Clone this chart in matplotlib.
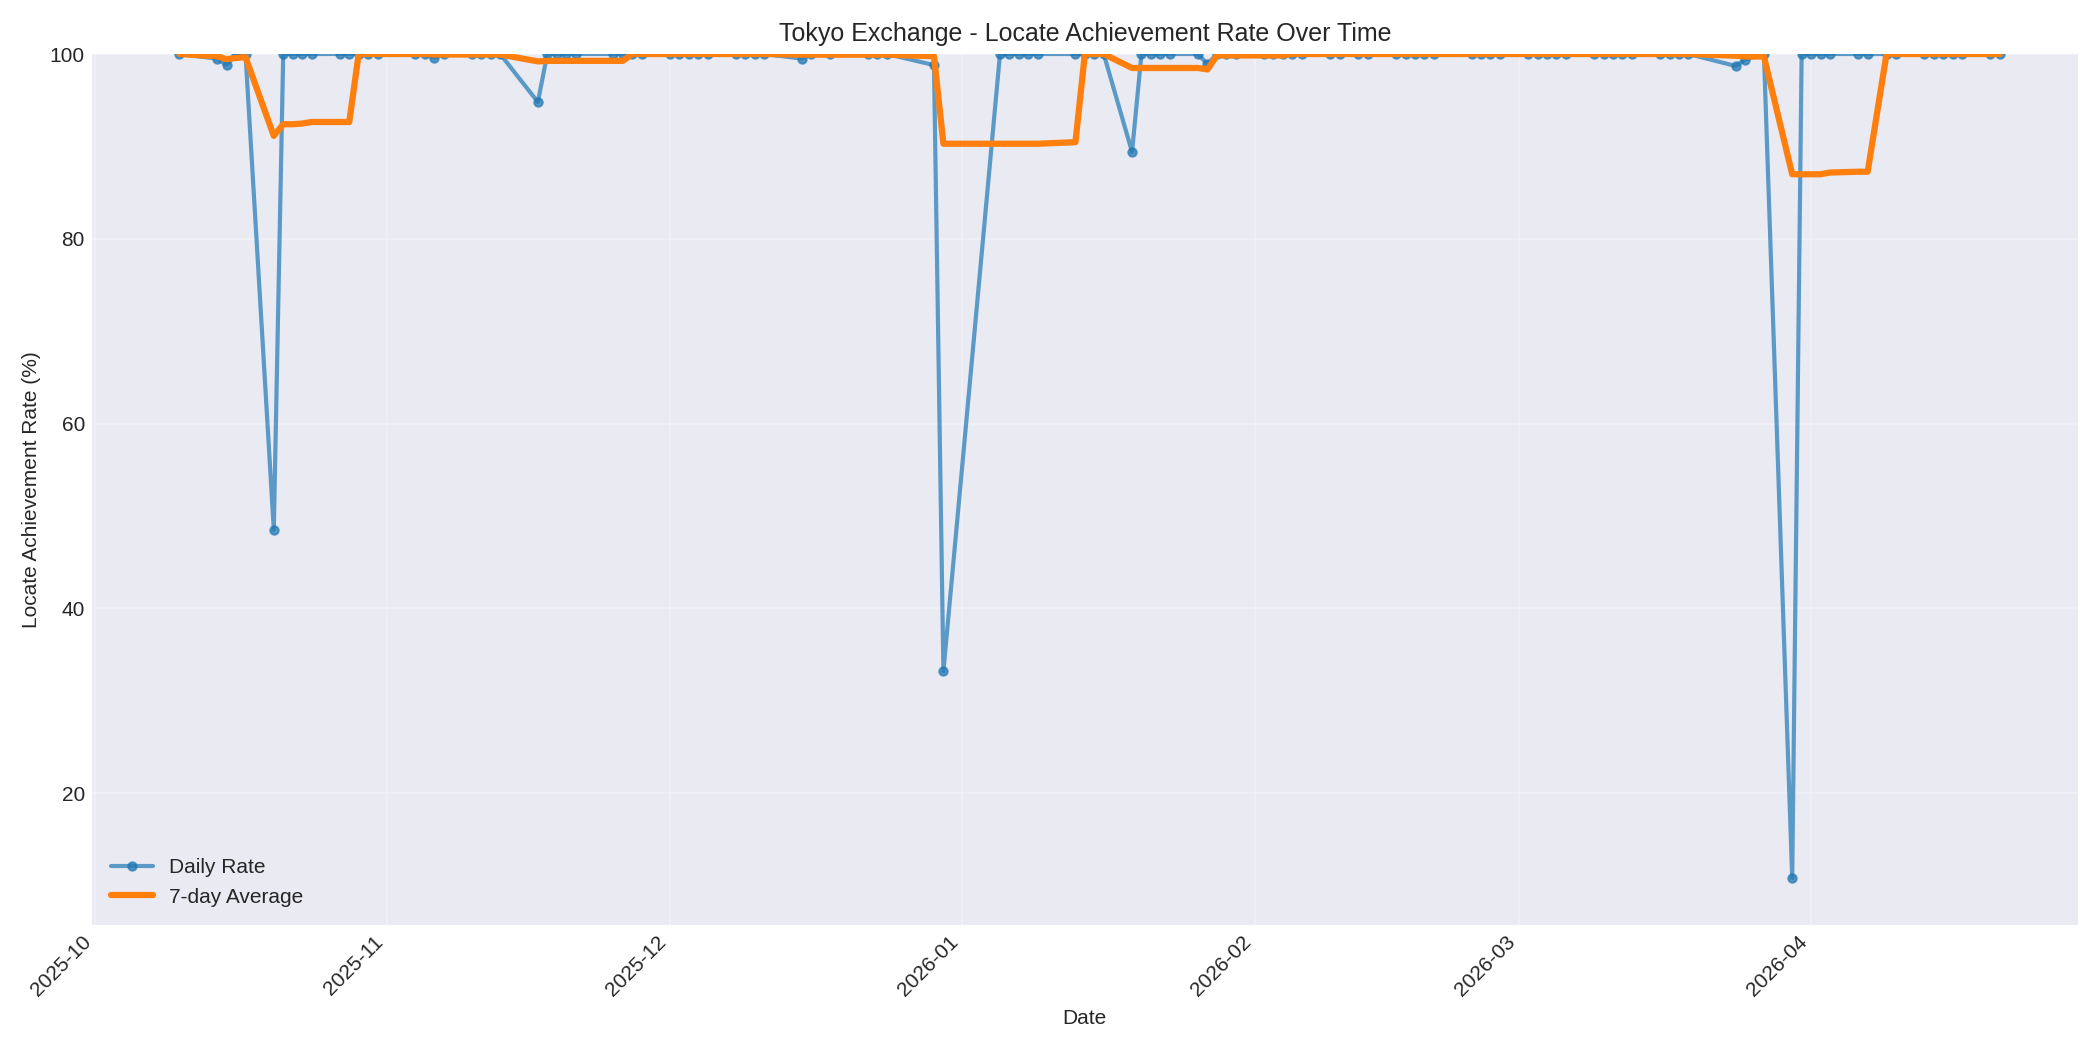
import matplotlib
matplotlib.use("Agg")
import matplotlib.pyplot as plt
import pandas as pd

# Tokyo exchange daily locate achievement rate (%)
dates = [
    "2025-10-10", "2025-10-14", "2025-10-15", "2025-10-16", "2025-10-17",
    "2025-10-20", "2025-10-21", "2025-10-22", "2025-10-23", "2025-10-24",
    "2025-10-27", "2025-10-28", "2025-10-29", "2025-10-30", "2025-10-31",
    "2025-11-04", "2025-11-05", "2025-11-06", "2025-11-07",
    "2025-11-10", "2025-11-11", "2025-11-12", "2025-11-13",
    "2025-11-17", "2025-11-18", "2025-11-19", "2025-11-20", "2025-11-21",
    "2025-11-25", "2025-11-26", "2025-11-27", "2025-11-28",
    "2025-12-01", "2025-12-02", "2025-12-03", "2025-12-04", "2025-12-05",
    "2025-12-08", "2025-12-09", "2025-12-10", "2025-12-11",
    "2025-12-15", "2025-12-16", "2025-12-18",
    "2025-12-22", "2025-12-23", "2025-12-24",
    "2025-12-29", "2025-12-30",
    "2026-01-05", "2026-01-06", "2026-01-07", "2026-01-08", "2026-01-09",
    "2026-01-13", "2026-01-14", "2026-01-15", "2026-01-16",
    "2026-01-19", "2026-01-20", "2026-01-21", "2026-01-22", "2026-01-23",
    "2026-01-26", "2026-01-27", "2026-01-28", "2026-01-29", "2026-01-30",
    "2026-02-02", "2026-02-03", "2026-02-04", "2026-02-05", "2026-02-06",
    "2026-02-09", "2026-02-10", "2026-02-12", "2026-02-13",
    "2026-02-16", "2026-02-17", "2026-02-18", "2026-02-19", "2026-02-20",
    "2026-02-24", "2026-02-25", "2026-02-26", "2026-02-27",
    "2026-03-02", "2026-03-03", "2026-03-04", "2026-03-05", "2026-03-06",
    "2026-03-09", "2026-03-10", "2026-03-11", "2026-03-12", "2026-03-13",
    "2026-03-16", "2026-03-17", "2026-03-18", "2026-03-19",
    "2026-03-24", "2026-03-25", "2026-03-27", "2026-03-30", "2026-03-31",
    "2026-04-01", "2026-04-02", "2026-04-03", "2026-04-06", "2026-04-07",
    "2026-04-09", "2026-04-10",
    "2026-04-13", "2026-04-14", "2026-04-15", "2026-04-16", "2026-04-17",
    "2026-04-20", "2026-04-21",
]
daily_rate = [
    100, 99.5, 98.8, 100, 100,
    48.5, 100, 100, 100, 100,
    100, 100, 100, 100, 100,
    100, 100, 99.6, 100,
    100, 100, 100, 100,
    94.8, 100, 100, 100, 100,
    100, 100, 100, 100,
    100, 100, 100, 100, 100,
    100, 100, 100, 100,
    99.5, 100, 100,
    100, 100, 100,
    98.8, 33.2,
    100, 100, 100, 100, 100,
    100, 100, 100, 100,
    89.4, 100, 100, 100, 100,
    100, 98.9, 100, 100, 100,
    100, 100, 100, 100, 100,
    100, 100, 100, 100,
    100, 100, 100, 100, 100,
    100, 100, 100, 100,
    100, 100, 100, 100, 100,
    100, 100, 100, 100, 100,
    100, 100, 100, 100,
    98.7, 99.4, 100, 10.8, 100,
    100, 100, 100, 100, 100,
    100, 100,
    100, 100, 100, 100, 100,
    100, 100,
]

plt.style.use("seaborn-v0_8-darkgrid")

df = pd.DataFrame({"date": pd.to_datetime(dates), "rate": daily_rate})
df["avg7"] = df["rate"].rolling(7, min_periods=1).mean()

fig, ax = plt.subplots(figsize=(14, 7), dpi=150)
ax.plot(df["date"], df["rate"], marker="o", markersize=4, linewidth=2,
        alpha=0.7, color="#1f77b4", label="Daily Rate")
ax.plot(df["date"], df["avg7"], linewidth=3, color="#ff7f0e", label="7-day Average")

ax.set_title("Tokyo Exchange - Locate Achievement Rate Over Time", fontsize=12)
ax.set_xlabel("Date")
ax.set_ylabel("Locate Achievement Rate (%)")
ax.set_ylim(5.7, 100)
ax.set_xlim(pd.Timestamp("2025-09-30 18:00"), pd.Timestamp("2026-04-29 06:00"))
ax.legend(loc="lower left")
ax.grid(True, alpha=0.3)
plt.setp(ax.get_xticklabels(), rotation=45, ha="right")

plt.tight_layout()
plt.savefig("out.png", dpi=150)
